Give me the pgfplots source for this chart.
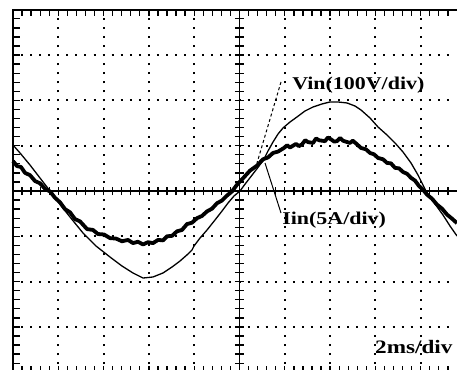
\documentclass[border=0pt]{standalone}
\usepackage{pgfplots}
\pgfplotsset{compat=1.18}
\usepackage{fontspec}
\newfontfamily\lab[FakeStretch=1.22]{Liberation Serif Bold}
\begin{document}
\begin{tikzpicture}
\begin{axis}[
  scale only axis, width=457pt, height=370pt,
  xmin=-0.287, xmax=9.801, ymin=-3.951, ymax=4.216,
  hide axis, clip=true,
]
% ---- dotted grid (dots every 0.2 div) ----
\pgfplotsinvokeforeach{1,...,48}{
  \draw[black, line width=2pt]
    (axis cs:{#1*0.2-0.022},-3) -- (axis cs:{#1*0.2+0.022},-3)
    (axis cs:{#1*0.2-0.022},-2) -- (axis cs:{#1*0.2+0.022},-2)
    (axis cs:{#1*0.2-0.022},-1) -- (axis cs:{#1*0.2+0.022},-1)
    (axis cs:{#1*0.2-0.022},1) -- (axis cs:{#1*0.2+0.022},1)
    (axis cs:{#1*0.2-0.022},2) -- (axis cs:{#1*0.2+0.022},2)
    (axis cs:{#1*0.2-0.022},3) -- (axis cs:{#1*0.2+0.022},3);
}
\pgfplotsinvokeforeach{-19,...,19}{
  \draw[black, line width=2pt]
    (axis cs:1,{#1*0.2-0.022}) -- (axis cs:1,{#1*0.2+0.022})
    (axis cs:2,{#1*0.2-0.022}) -- (axis cs:2,{#1*0.2+0.022})
    (axis cs:3,{#1*0.2-0.022}) -- (axis cs:3,{#1*0.2+0.022})
    (axis cs:4,{#1*0.2-0.022}) -- (axis cs:4,{#1*0.2+0.022})
    (axis cs:6,{#1*0.2-0.022}) -- (axis cs:6,{#1*0.2+0.022})
    (axis cs:7,{#1*0.2-0.022}) -- (axis cs:7,{#1*0.2+0.022})
    (axis cs:8,{#1*0.2-0.022}) -- (axis cs:8,{#1*0.2+0.022})
    (axis cs:9,{#1*0.2-0.022}) -- (axis cs:9,{#1*0.2+0.022});
}
% ---- frame ----
\draw[black, line width=2pt] (axis cs:0,-3.95) -- (axis cs:0,4) -- (axis cs:9.8,4);
\draw[black, line width=2pt] (axis cs:0,-4) -- (axis cs:9.8,-4);
% ---- centre axes ----
\draw[black, line width=1.5pt] (axis cs:0,0) -- (axis cs:9.8,0);
\draw[black, line width=1.5pt] (axis cs:5,-3.95) -- (axis cs:5,4);
% ---- ticks ----
\pgfplotsinvokeforeach{-19,...,19}{
  \draw[black, line width=1.3pt] (axis cs:0,{#1*0.2}) -- (axis cs:0.15,{#1*0.2});
  \draw[black, line width=1.3pt] (axis cs:4.9,{#1*0.2}) -- (axis cs:5.1,{#1*0.2});
}
\pgfplotsinvokeforeach{1,...,48}{
  \draw[black, line width=1.3pt] (axis cs:{#1*0.2},4) -- (axis cs:{#1*0.2},3.86);
  \draw[black, line width=1.3pt] (axis cs:{#1*0.2},-3.95) -- (axis cs:{#1*0.2},-3.86);
  \draw[black, line width=1.3pt] (axis cs:{#1*0.2},-0.09) -- (axis cs:{#1*0.2},0.09);
}
% ---- Iin (5A/div) ----
\addplot[black, line width=3.8pt, line join=round, no markers] coordinates {
(0.000,0.66) (0.088,0.55) (0.177,0.53) (0.265,0.40) (0.375,0.35) (0.486,0.22)
(0.596,0.17) (0.706,0.05) (0.817,-0.01) (0.927,-0.15) (1.038,-0.25) (1.148,-0.40)
(1.258,-0.47) (1.369,-0.62) (1.479,-0.67) (1.634,-0.84) (1.766,-0.86) (1.876,-0.95)
(2.009,-0.96) (2.141,-1.04) (2.274,-1.05) (2.406,-1.11) (2.539,-1.08) (2.649,-1.15)
(2.759,-1.12) (2.870,-1.18) (2.980,-1.13) (3.091,-1.15) (3.201,-1.08) (3.311,-1.09)
(3.400,-1.00) (3.510,-0.99) (3.620,-0.89) (3.731,-0.86) (3.841,-0.73) (3.951,-0.70)
(4.062,-0.60) (4.172,-0.55) (4.283,-0.45) (4.393,-0.39) (4.503,-0.27) (4.614,-0.21)
(4.724,-0.10) (4.834,-0.01) (4.945,0.14) (5.077,0.28) (5.232,0.45) (5.386,0.56)
(5.519,0.70) (5.629,0.74) (5.740,0.84) (5.850,0.87) (5.982,0.95) (6.050,1.01) (6.115,0.96)
(6.247,1.04) (6.310,0.99) (6.380,1.03) (6.450,1.12) (6.512,1.08) (6.623,1.06) (6.690,1.16) (6.755,1.12) (6.887,1.10)
(6.950,1.18) (7.020,1.14) (7.090,1.09) (7.152,1.10) (7.220,1.17) (7.285,1.11) (7.439,1.06) (7.500,1.11) (7.572,1.05) (7.682,0.95)
(7.792,0.92) (7.881,0.84) (7.969,0.81) (8.057,0.73) (8.168,0.70) (8.256,0.62)
(8.344,0.61) (8.433,0.51) (8.521,0.50) (8.609,0.42) (8.698,0.38) (8.786,0.29)
(8.874,0.23) (8.962,0.11) (9.051,0.03) (9.139,-0.08) (9.249,-0.17) (9.360,-0.30)
(9.470,-0.39) (9.581,-0.52) (9.691,-0.61) (9.801,-0.71)
};
% ---- Vin (100V/div) ----
\addplot[black, line width=1.3pt, line join=round, no markers] coordinates {
(0.000,1.015) (0.155,0.839) (0.375,0.574) (0.596,0.287) (0.817,0.000) (0.949,-0.177)
(1.082,-0.353) (1.258,-0.574) (1.545,-0.927) (1.832,-1.214) (2.141,-1.457) (2.406,-1.656)
(2.649,-1.810) (2.870,-1.921) (3.091,-1.898) (3.311,-1.810) (3.510,-1.678) (3.687,-1.545)
(3.863,-1.391) (3.951,-1.302) (3.996,-1.214) (4.128,-1.038) (4.283,-0.861) (4.459,-0.640)
(4.614,-0.442) (4.746,-0.265) (4.879,-0.110) (5.011,0.000) (5.121,0.150) (5.276,0.350)
(5.408,0.520) (5.541,0.706) (5.629,0.883) (5.740,1.082) (5.850,1.258) (5.960,1.391)
(6.115,1.523) (6.269,1.634) (6.446,1.766) (6.623,1.854) (6.821,1.921) (6.998,1.965)
(7.174,1.965) (7.373,1.943) (7.550,1.876) (7.682,1.788) (7.881,1.611) (8.057,1.413)
(8.256,1.236) (8.433,1.060) (8.609,0.861) (8.786,0.618) (8.940,0.353) (9.051,0.132)
(9.117,0.000) (9.316,-0.287) (9.492,-0.530) (9.647,-0.773) (9.801,-0.993)
};
% ---- leader lines ----
\draw[black, line width=1pt, dash pattern=on 3pt off 2.5pt] (axis cs:5.916,2.406) -- (axis cs:5.386,0.618);
\draw[black, line width=1pt] (axis cs:5.563,0.618) -- (axis cs:5.916,-0.486);
% ---- labels ----
\node[anchor=base west, inner sep=0pt, font=\lab\fontsize{18}{20}\selectfont] at (axis cs:6.16,2.23) {Vin(100V/div)};
\node[anchor=base west, inner sep=0pt, font=\lab\fontsize{18}{20}\selectfont] at (axis cs:5.94,-0.75) {Iin(5A/div)};
\node[anchor=base west, inner sep=0pt, font=\lab\fontsize{19}{21}\selectfont] at (axis cs:7.99,-3.58) {2ms/div};
\end{axis}
\pgfresetboundingbox
\path[use as bounding box] (current axis.south west) rectangle (current axis.north east);
\end{tikzpicture}
\end{document}
